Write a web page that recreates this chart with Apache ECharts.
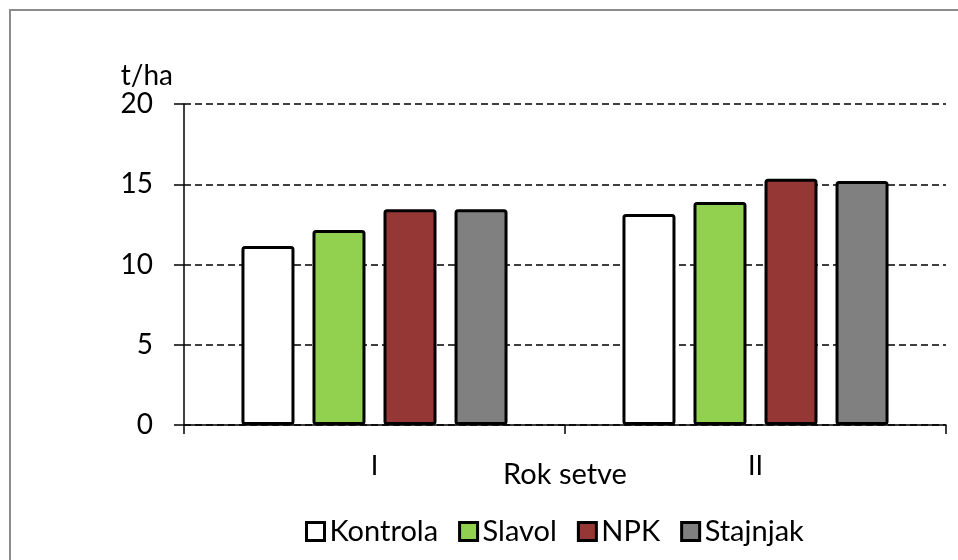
<!DOCTYPE html>
<html>
<head>
<meta charset="utf-8">
<script src="https://cdn.jsdelivr.net/npm/echarts@6/dist/echarts.min.js"></script>
<style>
  html, body { margin: 0; padding: 0; background: #fff; }
  #myChart { width: 958px; height: 560px; }
</style>
</head>
<body>
<div id="myChart"></div>
<script>
  // podaci
  var categories = ['I', 'II'];
  var kontrola = [11.15, 13.15];
  var slavol = [12.15, 13.9];
  var npk = [13.45, 15.35];
  var stajnjak = [13.45, 15.2];
  var yTicks = [0, 5, 10, 15, 20];

  var font = 'Lato, "Open Sans", sans-serif';
  var myChart = echarts.init(document.getElementById('myChart'));

  function bar(name, data, color) {
    return {
      name: name,
      type: 'bar',
      data: data,
      barWidth: 53,
      barGap: '34%',
      itemStyle: {
        color: color,
        borderColor: '#000',
        borderWidth: 3,
        borderRadius: 2
      }
    };
  }

  myChart.setOption({
    animation: false,
    textStyle: { fontFamily: font },
    graphic: [{
      type: 'rect',
      shape: { x: 10, y: 10, width: 980, height: 600 },
      style: { fill: 'none', stroke: '#8c8c8c', lineWidth: 2 },
      z: 0
    }],
    grid: {
      left: 184,
      right: 12,
      top: 104,
      bottom: 135
    },
    legend: {
      top: 512,
      left: 300,
      icon: 'rect',
      itemWidth: 18,
      itemHeight: 18,
      itemGap: 20,
      itemStyle: { borderWidth: 3, borderColor: '#000', borderRadius: 0 },
      textStyle: { fontSize: 29, color: '#000', fontFamily: font, padding: [0, 0, 0, 0] },
      data: ['Kontrola', 'Slavol', 'NPK', 'Stajnjak']
    },
    xAxis: {
      type: 'category',
      data: categories,
      name: 'Rok setve',
      nameLocation: 'middle',
      nameGap: 35,
      nameMoveOverlap: false,
      nameTextStyle: { fontSize: 29, color: '#000' },
      axisLine: { lineStyle: { color: '#000', width: 1.5 } },
      axisTick: { show: true, length: 9, lineStyle: { color: '#000', width: 1.5 } },
      axisLabel: { fontSize: 27, color: '#000', margin: 28 }
    },
    yAxis: {
      type: 'value',
      min: yTicks[0],
      max: yTicks[yTicks.length - 1],
      interval: 5,
      name: 't/ha',
      nameLocation: 'end',
      nameGap: 8,
      nameTextStyle: { fontSize: 28, color: '#000', align: 'right', padding: [0, 11, 0, 0] },
      axisLine: { show: true, lineStyle: { color: '#000', width: 1.5 } },
      axisTick: { show: true, length: 10, lineStyle: { color: '#000', width: 1.5 } },
      axisLabel: { fontSize: 28, color: '#000', margin: 31 },
      splitLine: { lineStyle: { color: '#000', width: 1.5, type: [7, 4] } }
    },
    series: [
      bar('Kontrola', kontrola, '#ffffff'),
      bar('Slavol', slavol, '#92d050'),
      bar('NPK', npk, '#953735'),
      bar('Stajnjak', stajnjak, '#808080')
    ]
  });
</script>
</body>
</html>
